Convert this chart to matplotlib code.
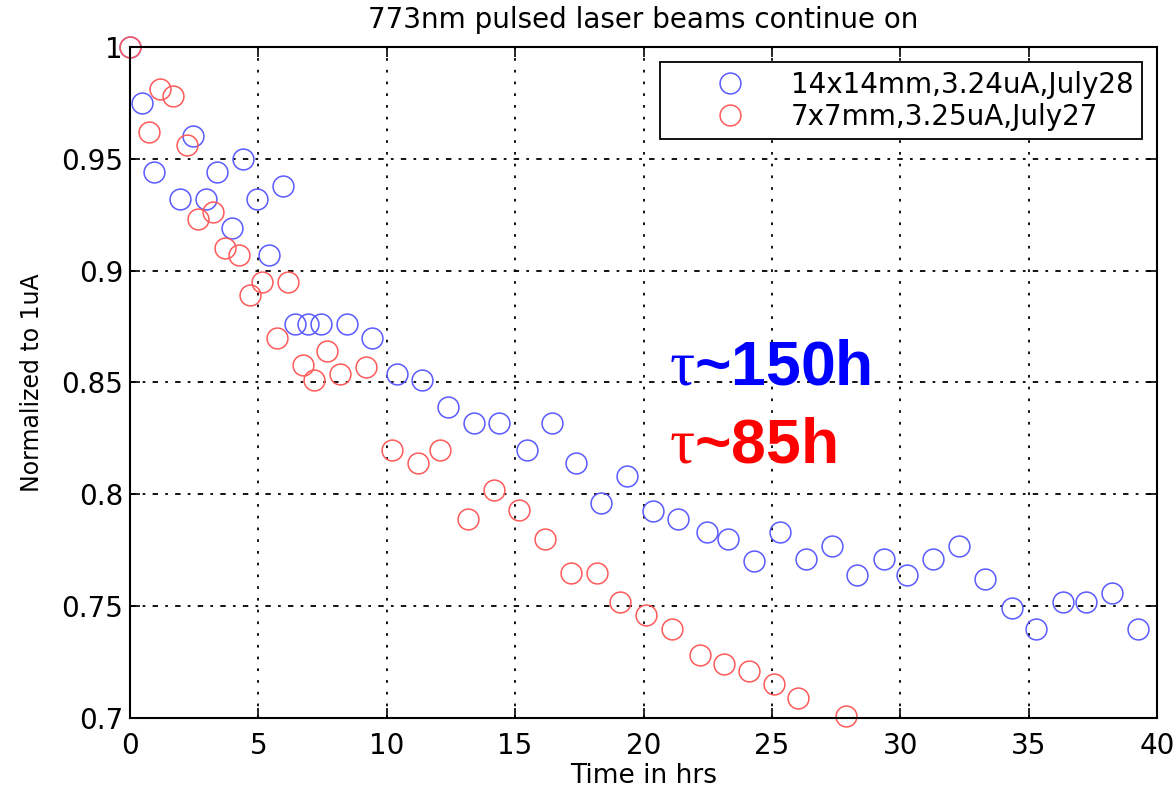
import numpy as np
import matplotlib
matplotlib.use('Agg')
import matplotlib.pyplot as plt

# beam 14x14mm, 3.24uA, July 28
t_big = [0.0, 0.46, 0.95, 1.95, 2.47, 2.96, 3.40, 3.98, 4.41, 4.93, 5.43, 5.97,
         6.43, 6.92, 7.44, 8.44, 9.44, 10.39, 11.36, 12.39, 13.40, 14.37, 15.46,
         16.44, 17.37, 18.35, 19.36, 20.37, 21.34, 22.46, 23.29, 24.30, 25.32,
         26.33, 27.34, 28.32, 29.37, 30.26, 31.28, 32.29, 33.30, 34.35, 35.29,
         36.34, 37.23, 38.25, 39.26]
i_big = [1.0, 0.975, 0.944, 0.932, 0.960, 0.932, 0.944, 0.919, 0.950, 0.932,
         0.907, 0.938, 0.876, 0.876, 0.876, 0.876, 0.870, 0.854, 0.851, 0.839,
         0.832, 0.832, 0.820, 0.832, 0.814, 0.796, 0.808, 0.7925, 0.789, 0.783,
         0.780, 0.770, 0.783, 0.771, 0.777, 0.764, 0.771, 0.764, 0.771, 0.777,
         0.762, 0.749, 0.740, 0.752, 0.752, 0.756, 0.740]

# beam 7x7mm, 3.25uA, July 27
t_small = [0.0, 0.75, 1.17, 1.69, 2.21, 2.66, 3.22, 3.70, 4.25, 4.67, 5.13, 5.71,
           6.15, 6.73, 7.18, 7.68, 8.18, 9.19, 10.22, 11.20, 12.07, 13.16, 14.18,
           15.15, 16.16, 17.17, 18.18, 19.08, 20.10, 21.10, 22.20, 23.14, 24.12,
           25.08, 26.02, 27.90]
i_small = [1.0, 0.962, 0.981, 0.978, 0.956, 0.923, 0.926, 0.910, 0.907, 0.889,
           0.895, 0.870, 0.895, 0.858, 0.851, 0.864, 0.854, 0.857, 0.820, 0.814,
           0.820, 0.789, 0.802, 0.793, 0.780, 0.765, 0.765, 0.752, 0.746, 0.740,
           0.728, 0.724, 0.721, 0.715, 0.709, 0.701]

labels = ['14x14mm,3.24uA,July28', '7x7mm,3.25uA,July27']
lifetimes = [r'$\tau$~150h', r'$\tau$~85h']

plt.rcParams['font.family'] = ['DejaVu Sans']
# serif tau like the Symbol font
plt.rcParams['mathtext.fontset'] = 'custom'
plt.rcParams['mathtext.rm'] = 'Liberation Serif'
plt.rcParams['mathtext.it'] = 'Liberation Serif'
plt.rcParams['mathtext.bf'] = 'Liberation Serif:bold'

fig = plt.figure(figsize=(11.73, 7.88), dpi=100)
ax = fig.add_axes([0.1108, 0.0888, 0.8756, 0.8516])

ax.plot(t_big, i_big, 'o', mfc='none', mec='#5a5aff', mew=1.1, ms=15,
        clip_on=False, label=labels[0])
ax.plot(t_small, i_small, 'o', mfc='none', mec='#ff5a5a', mew=1.1, ms=15,
        clip_on=False, label=labels[1])

ax.set_xlim(0, 40)
ax.set_ylim(0.7, 1.0)
ax.set_xticks(np.arange(0, 41, 5))
ax.set_yticks([0.7, 0.75, 0.8, 0.85, 0.9, 0.95, 1.0])
ax.set_yticklabels(['0.7', '0.75', '0.8', '0.85', '0.9', '0.95', '1'])

ax.tick_params(direction='in', length=7, width=1.2, labelsize=20,
               top=True, right=True)
ax.tick_params(axis='x', pad=10)
ax.tick_params(axis='y', pad=5)
for s in ax.spines.values():
    s.set_linewidth(1.5)

ax.xaxis.grid(True, color='black', linestyle=(0, (1.5, 5)), linewidth=1.3)
ax.yaxis.grid(True, color='black', linestyle=(0, (3, 4, 1.5, 4)), linewidth=1.3)

ax.set_title('773nm pulsed laser beams continue on', fontsize=20, pad=14)
ax.set_xlabel('Time in hrs', fontsize=19, labelpad=2)
ax.set_ylabel('Normalized to 1uA', fontsize=17, labelpad=12)

leg = ax.legend(loc='upper right', fontsize=20, numpoints=1, handlelength=4.4,
                handletextpad=0.0, borderpad=0.3, labelspacing=0.15,
                borderaxespad=0.55, fancybox=False, framealpha=1,
                edgecolor='black')
leg.get_frame().set_linewidth(1.3)

ax.text(21.0, 0.849, lifetimes[0], color='#0000ff', fontsize=45,
        fontweight='bold', family='Liberation Sans', ha='left', va='baseline')
ax.text(21.0, 0.8144, lifetimes[1], color='#ff0000', fontsize=45,
        fontweight='bold', family='Liberation Sans', ha='left', va='baseline')

fig.savefig('out.png', dpi=100)
